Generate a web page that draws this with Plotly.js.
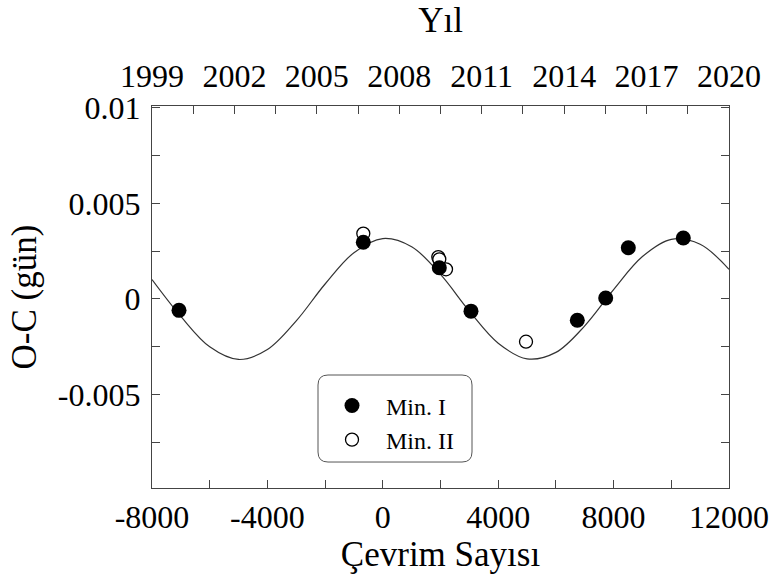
<!DOCTYPE html>
<html>
<head>
<meta charset="utf-8">
<script src="https://cdn.plot.ly/plotly-3.0.1.min.js"></script>
<style>html,body{margin:0;padding:0;background:#fff;}#chart{width:777px;height:584px;}</style>
</head>
<body>
<div id="chart"></div>
<script>
// ---- data ----
const cycleTickVals = [-8000, -4000, 0, 4000, 8000, 12000];
const cycleTickText = ['-8000', '-4000', '0', '4000', '8000', '12000'];
const yearTickVals = [1999, 2002, 2005, 2008, 2011, 2014, 2017, 2020];
const yearTickText = ['1999', '2002', '2005', '2008', '2011', '2014', '2017', '2020'];
const ocTickVals = [-0.005, 0, 0.005, 0.01];
const ocTickText = ['-0.005', '0', '0.005', '0.01'];

const minIEpoch = [-7064, -676, 1958, 3057, 6742, 7726, 8510, 10416];
const minIOC = [-0.0006, 0.00297, 0.00163, -0.00064, -0.00112, 0.00005, 0.00268, 0.00319];
const minIIEpoch = [-676, 1924, 1958, 2191, 4964];
const minIIOC = [0.00342, 0.00219, 0.00207, 0.00155, -0.00224];

const fitEpoch = [-8000, -7000, -6000, -5000, -4000, -3000, -2000, -1000, 0, 1000, 2000,
                  3000, 4000, 5000, 6000, 7000, 8000, 9000, 10000, 11000, 12000];
const fitOC = [0.00101, -0.00092, -0.00251, -0.00317, -0.00265, -0.00115, 0.00078, 0.00242, 0.00316, 0.00273, 0.00128,
               -0.00064, -0.00232, -0.00314, -0.00280, -0.00141, 0.00049, 0.00222, 0.00312, 0.00286, 0.00155];

const serif = 'Liberation Serif, Times New Roman, serif';
const frameColor = '#444';

const traces = [
  {x: fitEpoch, y: fitOC, mode: 'lines', line: {color: '#333', width: 1.2, shape: 'spline', smoothing: 1},
   showlegend: false, hoverinfo: 'skip'},
  {x: minIIEpoch, y: minIIOC, mode: 'markers', name: 'Min. II', legendrank: 2,
   marker: {symbol: 'circle', size: 13, color: '#fff', line: {color: '#000', width: 1.3}}},
  {x: minIEpoch, y: minIOC, mode: 'markers', name: 'Min. I', legendrank: 1,
   marker: {symbol: 'circle', size: 15, color: '#000', line: {width: 0}}},
  // empty carrier trace so the top (year) axis is drawn
  {x: yearTickVals, y: yearTickVals.map(() => null), xaxis: 'x2', yaxis: 'y', mode: 'markers',
   showlegend: false, hoverinfo: 'skip', marker: {opacity: 0}}
];

// legend rounded box (paper coords)
const bx0 = 0.2877, bx1 = 0.5546, by0 = 0.068, by1 = 0.2958, rx = 0.0173, ry = 0.0262;
const boxPath = `M ${bx0+rx},${by1} L ${bx1-rx},${by1} Q ${bx1},${by1} ${bx1},${by1-ry} L ${bx1},${by0+ry} Q ${bx1},${by0} ${bx1-rx},${by0} L ${bx0+rx},${by0} Q ${bx0},${by0} ${bx0},${by0+ry} L ${bx0},${by1-ry} Q ${bx0},${by1} ${bx0+rx},${by1} Z`;

const layout = {
  width: 777, height: 584,
  margin: {l: 152, r: 48, t: 106, b: 96},
  paper_bgcolor: '#fff', plot_bgcolor: '#fff',
  font: {family: serif, color: '#000', size: 32},
  showlegend: true,
  legend: {x: 0.2877, y: 0.274, xanchor: 'left', yanchor: 'top', bgcolor: 'rgba(0,0,0,0)', borderwidth: 0,
           font: {family: serif, size: 24, color: '#000'}, itemwidth: 58, traceorder: 'normal'},
  xaxis: {
    range: [-8000, 12000], tickmode: 'array', tickvals: cycleTickVals, ticktext: cycleTickText,
    ticks: 'inside', ticklen: 8, tickwidth: 1, tickcolor: frameColor,
    minor: {dtick: 2000, tick0: 0, ticks: 'inside', ticklen: 8, tickcolor: frameColor, tickwidth: 1, showgrid: false},
    showline: true, linecolor: frameColor, linewidth: 1.2, mirror: false,
    showgrid: false, zeroline: false, tickfont: {size: 32, family: serif}, ticklabelstandoff: 0,
    title: {text: 'Çevrim Sayısı', font: {size: 35, family: serif}, standoff: 8}, automargin: false
  },
  xaxis2: {
    range: [1999, 2020], overlaying: 'x', side: 'top', anchor: 'y',
    tickmode: 'array', tickvals: yearTickVals, ticktext: yearTickText,
    ticks: 'inside', ticklen: 8, tickwidth: 1, tickcolor: frameColor,
    minor: {dtick: 1.5, tick0: 1999, ticks: 'inside', ticklen: 8, tickcolor: frameColor, tickwidth: 1, showgrid: false},
    showline: true, linecolor: frameColor, linewidth: 1.2,
    showgrid: false, zeroline: false, tickfont: {size: 32, family: serif}, ticklabelstandoff: 5,
    title: {text: 'Yıl', font: {size: 35, family: serif}, standoff: 14}, automargin: false
  },
  yaxis: {
    range: [-0.0099, 0.0101], tickmode: 'array', tickvals: ocTickVals, ticktext: ocTickText,
    ticks: 'inside', ticklen: 8, tickwidth: 1, tickcolor: frameColor,
    minor: {dtick: 0.0025, tick0: 0, ticks: 'inside', ticklen: 8, tickcolor: frameColor, tickwidth: 1, showgrid: false},
    showline: true, linecolor: frameColor, linewidth: 1.2, mirror: 'allticks',
    showgrid: false, zeroline: false, tickfont: {size: 32, family: serif}, ticklabelstandoff: 4,
    title: {text: 'O-C (gün)', font: {size: 35, family: serif}, standoff: 10}, automargin: false
  },
  shapes: [
    {type: 'path', xref: 'paper', yref: 'paper', path: boxPath, line: {color: '#555', width: 1}, fillcolor: 'rgba(0,0,0,0)', layer: 'above'}
  ]
};

Plotly.newPlot('chart', traces, layout, {displayModeBar: false, staticPlot: true});
</script>
</body>
</html>
